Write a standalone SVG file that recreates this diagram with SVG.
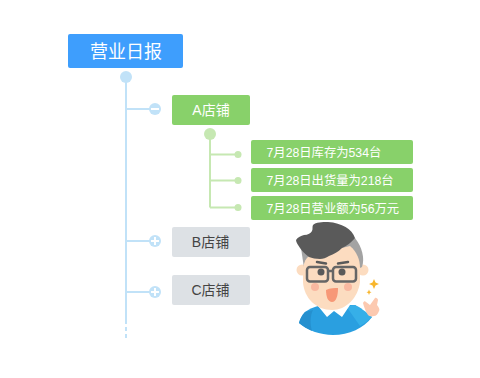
<svg xmlns="http://www.w3.org/2000/svg" width="480" height="378" viewBox="0 0 480 378">
  <style>
    text { font-family: "Liberation Sans", "Noto Sans CJK SC", sans-serif; text-anchor: middle; }
    .root { fill: #3e9efd; }
    .green { fill: #88d16a; }
    .grey { fill: #dde1e5; }
    .blue-line { stroke: #c1e2f8; stroke-width: 2; fill: none; }
    .green-line { stroke: #c6e8b2; stroke-width: 2; fill: none; }
    .blue-dot { fill: #c1e2f8; }
    .green-dot { fill: #c6e8b2; }
    .sign { stroke: #fff; stroke-width: 2; fill: none; }
    .store { font-size: 14px; }
    .note { font-size: 12.300px; fill: #fff; text-anchor: start; }
  </style>

  <g id="connectors">
    <path class="blue-line" d="M126 78V320"/>
    <path class="blue-line" d="M126 320V339" stroke-dasharray="4 3"/>
    <path class="blue-line" d="M126 109H155M126 241H155M126 292H155"/>
    <path class="green-line" d="M210 135V207.500M210 154.500H238M210 180.500H238M210 207.500H238"/>
  </g>

  <g id="root">
    <rect class="root" x="68" y="34" width="115" height="34" rx="2"/>
    <text x="126" y="57.500" font-size="18" fill="#fff">营业日报</text>
    <circle class="blue-dot" cx="126" cy="77" r="6"/>
  </g>

  <g id="store-a">
    <circle class="blue-dot" cx="155" cy="109" r="6"/>
    <path class="sign" d="M151 109H159"/>
    <rect class="green" x="172" y="95" width="78" height="30" rx="2"/>
    <text class="store" x="211" y="115" fill="#fff">A店铺</text>
    <circle class="green-dot" cx="210" cy="134" r="6"/>
  </g>

  <g id="note-stock">
    <circle class="green-dot" cx="238" cy="154.500" r="3.500"/>
    <rect class="green" x="251" y="140" width="162" height="24" rx="2"/>
    <text class="note" x="266.500" y="156.500">7月28日库存为534台</text>
  </g>
  <g id="note-shipped">
    <circle class="green-dot" cx="238" cy="180.500" r="3.500"/>
    <rect class="green" x="251" y="168" width="162" height="24" rx="2"/>
    <text class="note" x="266.500" y="184.500">7月28日出货量为218台</text>
  </g>
  <g id="note-revenue">
    <circle class="green-dot" cx="238" cy="207.500" r="3.500"/>
    <rect class="green" x="251" y="196" width="162" height="24" rx="2"/>
    <text class="note" x="266.500" y="212.500">7月28日营业额为56万元</text>
  </g>

  <g id="store-b">
    <circle class="blue-dot" cx="155" cy="241" r="6"/>
    <path class="sign" d="M151 241H159M155 237V245"/>
    <rect class="grey" x="172" y="227" width="78" height="30" rx="2"/>
    <text class="store" x="210.500" y="247" fill="#444">B店铺</text>
  </g>
  <g id="store-c">
    <circle class="blue-dot" cx="155" cy="292" r="6"/>
    <path class="sign" d="M151 292H159M155 288V296"/>
    <rect class="grey" x="172" y="275" width="78" height="30" rx="2"/>
    <text class="store" x="210.500" y="295" fill="#444">C店铺</text>
  </g>

  <g id="mascot">
    <!-- shirt -->
    <path fill="#2a9fe0" d="M305 312C309 309 314 307 318 306L350 305L355 305L372 317C364 328 349 335 333 335C320 335 307 330 299 323C300 319 302 315 305 312Z"/>
    <path fill="#36afe8" d="M346 306L355 305C360 307 366 312 372 317C368 321 364 324 360 326Z"/>
    <path fill="#2590cf" d="M305 312L313 310C310 316 310 324 312 331C307 329 303 326 299 323C300 319 302 315 305 312Z"/>
    <!-- collar -->
    <path fill="#fff" d="M318 306L327 317L334 311L342 317L350 305L340 302L326 302Z"/>
    <!-- ears and the grey hair behind the face -->
    <circle cx="302" cy="270" r="5.500" fill="#fcdcc0"/>
    <circle cx="363" cy="270" r="5.500" fill="#fcdcc0"/>
    <path fill="#a3a3a3" d="M301 248L304 268L360 268L362 267C365 258 362 247 355 238L330 240Z"/>
    <!-- face -->
    <path fill="#fcdcc0" d="M303 268C304 262 306 258 309 256L350 246C357 252 360 260 360 268L360 282C358 298 346 310 332 310C316 310 304 298 303 282Z"/>
    <!-- hair front -->
    <path fill="#5a5a5a" d="M313 225C316 222 322 222 328 222C342 223 352 229 355 238C350 244 346 246 342 248C338 252 334 254 329 256C326 258 323 259 320 259C316 259 312 258 309 257C305 254 302 251 300 248C298 245 296 242 296 240C298 237 301 236 304 235C308 235 311 233 312 231C313 229 312 227 313 225Z"/>
    <!-- brows -->
    <path d="M317 262L326 263.500M338 263.500L348 262" stroke="#5a5a5a" stroke-width="2.500" stroke-linecap="round" fill="none"/>
    <!-- glasses -->
    <g fill="none" stroke="#666" stroke-width="2.500">
      <rect x="307" y="267" width="21" height="14.500" rx="3"/>
      <rect x="333" y="267" width="23" height="14.500" rx="3"/>
      <path d="M328 271H333"/>
    </g>
    <circle cx="321" cy="272" r="3.500" fill="#5a5a5a"/>
    <circle cx="342" cy="272" r="3.500" fill="#5a5a5a"/>
    <!-- cheeks and mouth -->
    <circle cx="315" cy="287" r="4" fill="#f9b8a0"/>
    <circle cx="348" cy="287" r="4" fill="#f9b8a0"/>
    <path fill="#f79877" d="M326 290C330 288 335 288 338 288C338 296 336 302 332 302C328 302 326 297 326 290Z"/>
    <!-- hand -->
    <path fill="#fcc9b0" d="M363 303C364 301 365 301 366 302L370 305L375 298C376 297 378 299 378 300L377 305C379 307 380 310 379 311C378 314 376 316 374 316C371 317 369 316 368 315C366 312 364 307 363 303Z"/>
    <!-- sparkles -->
    <path fill="#f8b62d" d="M374 279L375.500 282.500L379 284L375.500 285.500L374 289L372.500 285.500L369 284L372.500 282.500Z"/>
    <path fill="#f8b62d" d="M369 289.500L369.800 291.500L371.500 292.300L369.800 293L369 295L368.200 293L366.500 292.300L368.200 291.500Z"/>
  </g>
</svg>
